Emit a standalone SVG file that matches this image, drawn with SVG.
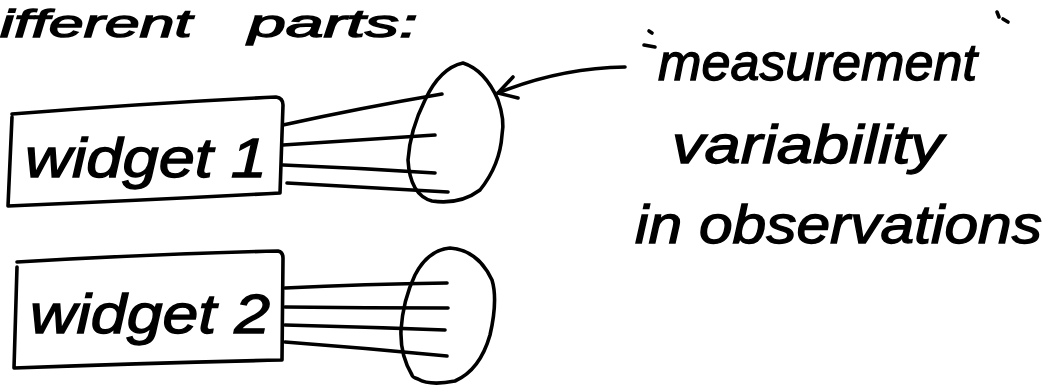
<svg xmlns="http://www.w3.org/2000/svg" width="1059" height="386" viewBox="0 0 1059 386">
<style>
.s{fill:none;stroke:#000;stroke-width:3.6;stroke-linecap:round;stroke-linejoin:round}
.t{font-family:"Liberation Sans","DejaVu Sans",sans-serif;font-style:italic;fill:#000;stroke:#000;stroke-width:1.3}
</style>
<rect width="1059" height="386" fill="#fff"/>
<text class="t" x="0" y="37" font-size="38" textLength="192" lengthAdjust="spacingAndGlyphs">ifferent</text>
<text class="t" x="248" y="37" font-size="38" textLength="170" lengthAdjust="spacingAndGlyphs">parts:</text>
<g id="widget1">
<path class="s" d="M12 114 Q150 103 276 97 Q283 98 283 105 L280 193 Q150 200 8 206 L12 117"/>
<text class="t" x="25" y="177" font-size="56" textLength="242" lengthAdjust="spacingAndGlyphs">widget 1</text>
</g>
<g id="widget2">
<path class="s" d="M17 262 Q150 254 278 251 Q283 252 283 258 L282 360 Q150 363 14 368 L17 267"/>
<text class="t" x="30" y="333" font-size="56" textLength="240" lengthAdjust="spacingAndGlyphs">widget 2</text>
</g>
<g id="cloud1">
<path class="s" d="M463 63 Q440 68 425 100 Q410 130 408 160 Q410 195 432 201 Q460 205 480 190 Q500 165 502 135 Q505 120 498 100 Q485 70 463 63 Z"/>
</g>
<g id="cloud2">
<path class="s" d="M412 375 Q400 355 401 330 Q403 300 415 275 Q428 250 450 248 Q478 250 492 280 Q498 300 490 335 Q480 370 455 381 Q430 386 418 379 Q412 377 412 375 Z"/>
</g>
<g id="label">
<text class="t" x="658" y="80" font-size="52" textLength="319" lengthAdjust="spacingAndGlyphs">measurement</text>
<path class="s" d="M649 31 L652 33 M644 45 L655 47"/>
<path class="s" d="M997 12 L999 17 M1003 19 L1008 22"/>
<text class="t" x="672" y="163" font-size="54" textLength="271" lengthAdjust="spacingAndGlyphs">variability</text>
<text class="t" x="635" y="243" font-size="54" textLength="407" lengthAdjust="spacingAndGlyphs">in observations</text>
</g>
<g id="connectors">
<path class="s" d="M283 125 Q360 108 442 94"/>
<path class="s" d="M283 145 Q360 140 435 135"/>
<path class="s" d="M283 165 Q360 168 435 173"/>
<path class="s" d="M287 183 Q370 188 448 192"/>
<path class="s" d="M285 288 Q365 284 447 283"/>
<path class="s" d="M285 307 Q365 308 448 308"/>
<path class="s" d="M285 325 Q365 327 445 330"/>
<path class="s" d="M285 342 Q365 348 447 356"/>
<path class="s" d="M625 67 Q560 68 498 93"/>
<path class="s" d="M513 77 L498 93 L518 98"/>
</g>
</svg>
